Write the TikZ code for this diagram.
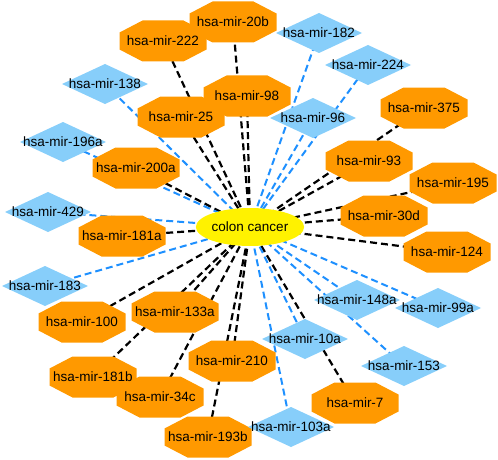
\documentclass[tikz,border=0pt]{standalone}
\usepackage{fontspec}
\setmainfont{Liberation Sans}
\usetikzlibrary{shapes.geometric}
\pgfdeclarelayer{edges}
\pgfdeclarelayer{shapes}
\pgfsetlayers{edges,shapes,main}
\definecolor{octcol}{RGB}{255,153,0}
\definecolor{diacol}{RGB}{135,206,250}
\definecolor{bluedge}{RGB}{30,144,255}
\tikzset{
  octfill/.style={fill=octcol},
  diafill/.style={fill=diacol},
  lbl/.style={inner sep=0pt, font=\fontsize{13.5}{16}\selectfont, text=black},
  kedge/.style={draw=black, line width=2.2pt, dash pattern=on 7pt off 4pt},
  bedge/.style={draw=bluedge, line width=2pt, dash pattern=on 7pt off 4pt},
  hub/.style={ellipse, fill=yellow, minimum width=86pt, minimum height=38pt, inner sep=0pt, font=\fontsize{13.5}{16}\selectfont}
}
\newcommand\octnode[4]{%
  \begin{pgfonlayer}{shapes}
  \fill[octfill, shift={(#2,#3)}] (-43.5,-8.5) -- (-20.5,-20.5) -- (20.5,-20.5) -- (43.5,-8.5) -- (43.5,8.5) -- (20.5,20.5) -- (-20.5,20.5) -- (-43.5,8.5) -- cycle;
  \end{pgfonlayer}
  \node[lbl] (#1) at (#2,#3) {#4};
  \begin{pgfonlayer}{edges}
  \draw[kedge] (cc.center) -- (#1.center);
  \end{pgfonlayer}
}
\newcommand\dianode[4]{%
  \begin{pgfonlayer}{shapes}
  \fill[diafill, shift={(#2,#3)}] (-43,0) -- (0,-20) -- (43,0) -- (0,20) -- cycle;
  \end{pgfonlayer}
  \node[lbl] (#1) at (#2,#3) {#4};
  \begin{pgfonlayer}{edges}
  \draw[bedge] (cc.center) -- (#1.center);
  \end{pgfonlayer}
}
\begin{document}
\begin{tikzpicture}[x=1pt,y=-1pt]
\useasboundingbox (0,0) rectangle (498,460);
\node[hub] (cc) at (250,227) {colon cancer};
% orange octagons
\octnode{m20b}{233}{22}{hsa-mir-20b}
\octnode{m222}{163}{41}{hsa-mir-222}
\octnode{m98}{247}{96}{hsa-mir-98}
\octnode{m25}{181}{117}{hsa-mir-25}
\octnode{m375}{424}{108}{hsa-mir-375}
\octnode{m93}{369}{161}{hsa-mir-93}
\octnode{m195}{453}{183}{hsa-mir-195}
\octnode{m30d}{384}{216}{hsa-mir-30d}
\octnode{m124}{447}{252}{hsa-mir-124}
\octnode{m200a}{136}{168}{hsa-mir-200a}
\octnode{m181a}{122}{236}{hsa-mir-181a}
\octnode{m100}{82}{322}{hsa-mir-100}
\octnode{m133a}{175}{312}{hsa-mir-133a}
\octnode{m34c}{160}{397}{hsa-mir-34c}
\octnode{m181b}{93}{377}{hsa-mir-181b}
\octnode{m210}{232}{361}{hsa-mir-210}
\octnode{m193b}{208}{437}{hsa-mir-193b}
\octnode{m7}{355}{403}{hsa-mir-7}
% blue diamonds
\dianode{m182}{319}{33}{hsa-mir-182}
\dianode{m224}{368}{65}{hsa-mir-224}
\dianode{m138}{105}{84}{hsa-mir-138}
\dianode{m96}{313}{118}{hsa-mir-96}
\dianode{m196a}{63}{142}{hsa-mir-196a}
\dianode{m429}{48}{212}{hsa-mir-429}
\dianode{m183}{45}{286}{hsa-mir-183}
\dianode{m148a}{357}{300}{hsa-mir-148a}
\dianode{m99a}{438}{308}{hsa-mir-99a}
\dianode{m10a}{305}{339}{hsa-mir-10a}
\dianode{m153}{404}{366}{hsa-mir-153}
\dianode{m103a}{291}{427}{hsa-mir-103a}
\end{tikzpicture}
\end{document}
